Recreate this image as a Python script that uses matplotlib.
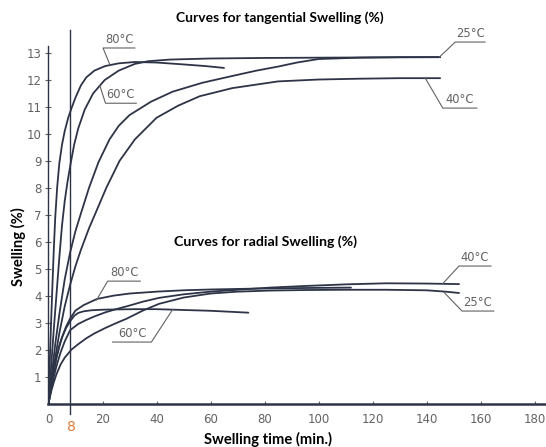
import numpy as np
import matplotlib
matplotlib.use('Agg')
import matplotlib.pyplot as plt

# tangential swelling (%) vs time (min)
tan80_t = [0, 0.5, 1, 1.5, 2, 2.5, 3.2, 4, 5, 6, 7.3, 8.5, 10, 12, 14, 17, 21, 26, 32, 40, 50, 58, 65]
tan80_s = [0, 1.6, 3.1, 4.5, 5.8, 6.9, 8.0, 8.9, 9.6, 10.1, 10.6, 10.95, 11.35, 11.8, 12.1, 12.35, 12.52, 12.62, 12.67, 12.65, 12.58, 12.52, 12.45]
tan60_t = [0, 1, 2, 3, 4, 5, 6, 7, 8.2, 9.5, 11, 13.4, 16.5, 20.8, 26, 32, 37, 45, 60, 80, 100, 120, 145]
tan60_s = [0, 1.4, 2.8, 4.1, 5.4, 6.6, 7.5, 8.2, 8.9, 9.6, 10.2, 10.9, 11.5, 12.0, 12.35, 12.6, 12.7, 12.76, 12.8, 12.82, 12.83, 12.84, 12.85]
tan25_t = [0, 1, 2.5, 4, 6, 8, 10, 12, 15, 18.5, 22.6, 26, 30, 38, 46, 57, 68, 77, 85, 92, 100, 115, 130, 145]
tan25_s = [0, 0.9, 2.2, 3.3, 4.6, 5.6, 6.4, 7.05, 8.0, 8.95, 9.8, 10.3, 10.7, 11.2, 11.57, 11.9, 12.15, 12.35, 12.5, 12.65, 12.78, 12.83, 12.85, 12.85]
tan40_t = [0, 1, 2.5, 4, 6, 8, 10, 12, 15, 18, 21.4, 26.3, 32, 40, 48, 56, 68, 85, 100, 115, 130, 145]
tan40_s = [0, 0.7, 1.7, 2.6, 3.6, 4.4, 5.1, 5.7, 6.5, 7.2, 8.0, 9.0, 9.8, 10.6, 11.05, 11.4, 11.7, 11.95, 12.02, 12.05, 12.07, 12.07]

# radial swelling (%) vs time (min)
rad80_t = [0, 1, 2, 3, 4, 5, 6.5, 8, 10, 13, 18, 24, 30, 40, 50, 60, 75, 90, 100, 112]
rad80_s = [0, 0.6, 1.2, 1.7, 2.1, 2.45, 2.85, 3.15, 3.45, 3.65, 3.88, 4.0, 4.08, 4.15, 4.2, 4.23, 4.26, 4.28, 4.29, 4.3]
rad60_t = [0, 1, 2, 3, 4, 5, 6.5, 8, 9.5, 11, 13, 16, 20, 25, 32, 40, 50, 60, 68, 74]
rad60_s = [0, 0.65, 1.25, 1.75, 2.15, 2.45, 2.8, 3.05, 3.25, 3.36, 3.42, 3.46, 3.48, 3.49, 3.5, 3.5, 3.47, 3.44, 3.4, 3.37]
rad40_t = [0, 1, 2, 3, 4.5, 6, 8, 11, 14, 17, 21, 25, 29.5, 35, 41, 50, 60, 70, 82, 95, 110, 125, 140, 152]
rad40_s = [0, 0.55, 1.0, 1.4, 1.9, 2.3, 2.72, 2.95, 3.1, 3.23, 3.38, 3.5, 3.62, 3.78, 3.92, 4.05, 4.15, 4.22, 4.3, 4.36, 4.42, 4.46, 4.45, 4.43]
rad25_t = [0, 1, 2, 3, 4.5, 6, 8.5, 11, 14, 17, 21, 25, 29, 35, 41, 50, 60, 70, 82, 95, 110, 125, 140, 147, 152]
rad25_s = [0, 0.45, 0.8, 1.1, 1.45, 1.7, 2.0, 2.2, 2.42, 2.6, 2.8, 2.98, 3.15, 3.45, 3.7, 3.93, 4.08, 4.15, 4.19, 4.21, 4.22, 4.22, 4.2, 4.15, 4.1]

x_ticks = [0, 20, 40, 60, 80, 100, 120, 140, 160, 180]
y_ticks = list(range(1, 14))

line_col = '#2e3447'
lab_col = '#626262'

fig = plt.figure(figsize=(5.46, 4.47), dpi=100)
ax = fig.add_axes([0.0888, 0.0973, 0.9112, 0.9027])

for t, s in [(tan80_t, tan80_s), (tan60_t, tan60_s), (tan25_t, tan25_s), (tan40_t, tan40_s),
             (rad80_t, rad80_s), (rad60_t, rad60_s), (rad40_t, rad40_s), (rad25_t, rad25_s)]:
    ax.plot(t, s, color=line_col, lw=1.3, solid_capstyle='round')

ax.set_xlim(0, 184.2)
ax.set_ylim(0, 14.97)

# the 8 min marker line
ax.plot([8, 8], [-0.4, 13.85], color=line_col, lw=1.0, clip_on=False)

for sp in ['top', 'right']:
    ax.spines[sp].set_visible(False)
ax.spines['left'].set_bounds(0, 13.25)
ax.spines['left'].set_linewidth(1.0)
ax.spines['bottom'].set_linewidth(1.8)
ax.spines['left'].set_color(line_col)
ax.spines['bottom'].set_color(line_col)

ax.set_xticks(x_ticks)
ax.set_yticks(y_ticks)
ax.tick_params(axis='y', direction='inout', length=4, width=0.8, colors=lab_col, labelsize=8.5, pad=3)
ax.tick_params(axis='x', direction='in', length=2, width=0.8, colors=lab_col, labelsize=8.5, pad=7)
ax.text(8.5, -0.6, '8', color='#e07b39', fontsize=10, ha='center', va='top')

# curve labels with underline and leader
labels = [
    ('80°C', (22.6, 12.6), (20.2, 13.19), (32.0, 13.19)),
    ('60°C', (19.0, 11.8), (21.1, 11.14), (32.5, 11.14)),
    ('25°C', (144.7, 12.85), (150.6, 13.41), (161.6, 13.41)),
    ('40°C', (139.5, 12.07), (146.0, 10.96), (158.6, 10.96)),
    ('80°C', (17.8, 3.84), (21.9, 4.54), (34.0, 4.54)),
    ('40°C', (145.8, 4.43), (152.0, 5.1), (163.8, 5.1)),
    ('25°C', (146.5, 4.12), (153.1, 3.43), (164.9, 3.43)),
]
for txt, p0, p1, p2 in labels:
    ax.plot([p0[0], p1[0], p2[0]], [p0[1], p1[1], p2[1]], color=lab_col, lw=0.8)
    ax.text((p1[0] + p2[0]) / 2, p1[1] + 0.07, txt, color=lab_col, fontsize=8.3, ha='center', va='bottom')
# radial 60 C label: leader from right end
ax.plot([46.0, 38.1, 23.7], [3.49, 2.28, 2.28], color=lab_col, lw=0.8)
ax.text(30.9, 2.35, '60°C', color=lab_col, fontsize=8.3, ha='center', va='bottom')

fig.text(280 / 546, 1 - 18 / 447, 'Curves for tangential Swelling (%)', fontsize=10, fontweight='bold',
         family='Lato', ha='center', va='center')
fig.text(266 / 546, 1 - 242 / 447, 'Curves for radial Swelling (%)', fontsize=10.2, fontweight='bold',
         family='Lato', ha='center', va='center')
fig.text(18 / 546, 1 - 247 / 447, 'Swelling (%)', fontsize=10.6, fontweight='bold', family='Lato',
         rotation=90, ha='center', va='center')
fig.text(268 / 546, 1 - 439 / 447, 'Swelling time (min.)', fontsize=10.6, fontweight='bold', family='Lato',
         ha='center', va='center')

fig.savefig('out.png', dpi=100)
